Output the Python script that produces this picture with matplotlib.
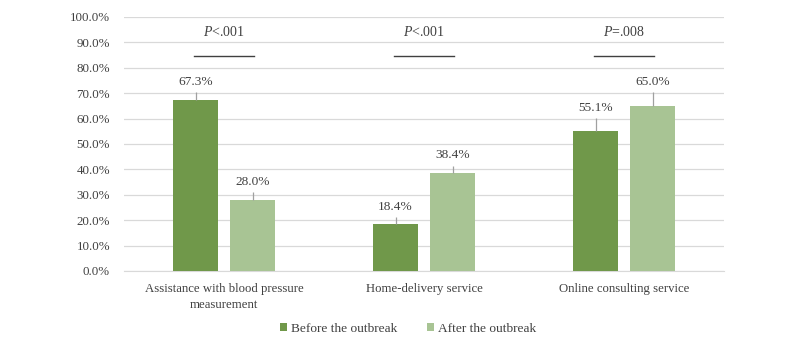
import matplotlib
matplotlib.use("Agg")
import matplotlib.pyplot as plt
import numpy as np

categories = ["Assistance with blood pressure\nmeasurement", "Home-delivery service", "Online consulting service"]
before = [67.3, 18.4, 55.1]
after = [28.0, 38.4, 65.0]
before_err = [3.1, 2.8, 5.1]
after_err = [3.1, 3.1, 5.5]
p_values = ["<.001", "<.001", "=.008"]
series_names = ["Before the outbreak", "After the outbreak"]
yticks = [0, 10, 20, 30, 40, 50, 60, 70, 80, 90, 100]

c_before = "#70984A"
c_after = "#A8C494"
txt = "#404040"

plt.rcParams['font.family'] = ['Liberation Serif', 'DejaVu Serif']
plt.rcParams['mathtext.fontset'] = 'custom'
plt.rcParams['mathtext.it'] = 'Liberation Serif:italic'
plt.rcParams['mathtext.rm'] = 'Liberation Serif'

fig = plt.figure(figsize=(8, 3.45), dpi=100)
ax = fig.add_axes([0.155, 0.2145, 0.75, 0.7365])

x = np.arange(len(categories))
w = 0.225
off = 0.1425

ax.bar(x - off, before, w, color=c_before, label=series_names[0], zorder=3)
ax.bar(x + off, after, w, color=c_after, label=series_names[1], zorder=3)
ax.errorbar(x - off, before, yerr=[np.zeros(3), before_err], fmt='none', ecolor="#A0A0A0", elinewidth=0.9, capsize=0, zorder=4)
ax.errorbar(x + off, after, yerr=[np.zeros(3), after_err], fmt='none', ecolor="#A0A0A0", elinewidth=0.9, capsize=0, zorder=4)

for xi, v, e in zip(x - off, before, before_err):
    ax.text(xi, v + e + 1.6, f"{v:.1f}%", ha='center', va='bottom', fontsize=9.6, color=txt)
for xi, v, e in zip(x + off, after, after_err):
    ax.text(xi, v + e + 1.6, f"{v:.1f}%", ha='center', va='bottom', fontsize=9.6, color=txt)

for xi, p in zip(x, p_values):
    ax.text(xi, 94, f"$\\mathit{{P}}${p}", ha='center', va='center', fontsize=10, color=txt)
    ax.plot([xi - 0.15, xi + 0.15], [84.5, 84.5], color="#404040", lw=1.0)

ax.set_xlim(-0.5, 2.5)
ax.set_ylim(0, 100)
ax.set_yticks(yticks)
ax.set_yticklabels([f"{t:.1f}%" for t in yticks], fontsize=9.3, color=txt)
ax.set_xticks(x)
ax.set_xticklabels(categories, fontsize=9.2, color=txt, linespacing=1.35)
ax.tick_params(axis='y', length=0, pad=10)
ax.tick_params(axis='x', length=0, pad=9)
ax.grid(axis='y', color="#D9D9D9", lw=0.9, zorder=0)
for s in ['top', 'right', 'left']:
    ax.spines[s].set_visible(False)
ax.spines['bottom'].set_color("#D9D9D9")

fig.legend(loc='lower center', bbox_to_anchor=(0.51, -0.005), ncol=2, frameon=False, fontsize=9.6,
           handlelength=0.55, handleheight=0.55, handletextpad=0.3, columnspacing=2.2, labelcolor=txt)

fig.savefig("out.png", dpi=100)
